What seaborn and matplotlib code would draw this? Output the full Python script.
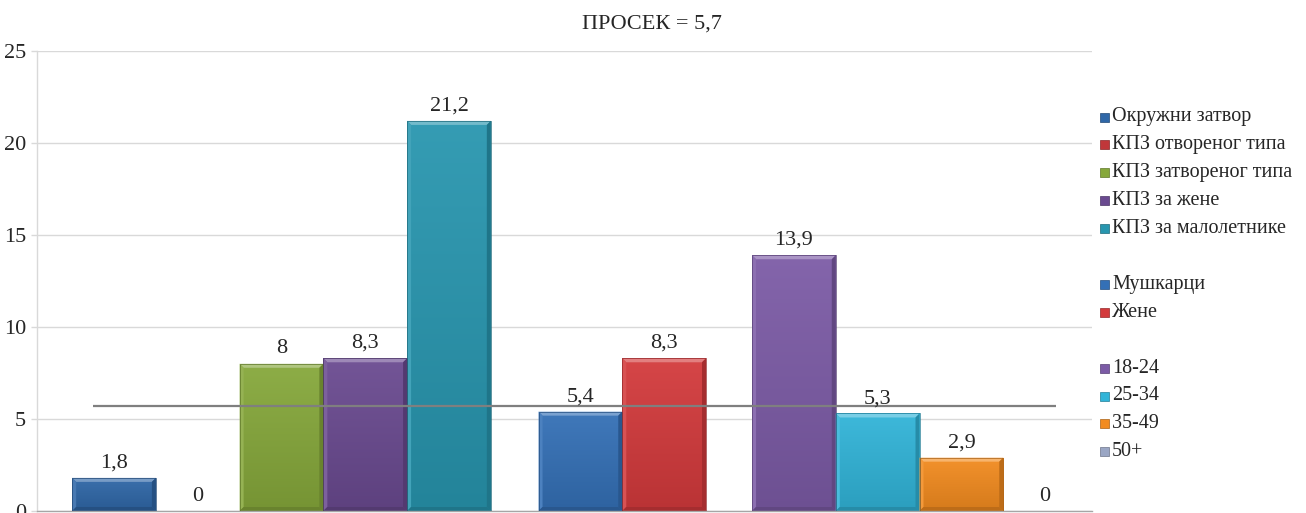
import numpy as np
import pandas as pd
import matplotlib
matplotlib.use("Agg")
import matplotlib.pyplot as plt
import seaborn as sns
from matplotlib.colors import to_rgb
from matplotlib.patches import Rectangle, Polygon

# ---- data ----
categories = ["Окружни затвор", "КПЗ отвореног типа", "КПЗ затвореног типа",
              "КПЗ за жене", "КПЗ за малолетнике",
              "Мушкарци", "Жене",
              "18-24", "25-34", "35-49", "50+"]
values = [1.8, 0, 8, 8.3, 21.2, 5.4, 8.3, 13.9, 5.3, 2.9, 0]
average = 5.7
title_text = "ПРОСЕК = 5,7"
group_sizes = [5, 2, 4]
y_ticks = [0, 5, 10, 15, 20, 25]

# ---- styling ----
colors = ["#2F67A7", "#C0373A", "#86A83B", "#6A4A90", "#2896AF",
          "#3470B6", "#D33A3C", "#7C5BA6", "#31B4D8", "#F28B1F", "#9AA6C4"]
positions = [0, 1, 2, 3, 4, 5.57, 6.57, 8.12, 9.12, 10.12, 11.12]
text_color = "#262626"
serif = ["Liberation Serif", "DejaVu Serif"]

sns.set_theme(style="white")
plt.rcParams["font.family"] = serif

W, H, DPI = 1306, 513, 100
fig = plt.figure(figsize=(W / DPI, H / DPI), dpi=DPI)
ax_left, ax_right, ax_top, ax_bottom = 37, 1092, 51, 511
ax = fig.add_axes([ax_left / W, (H - ax_bottom) / H,
                   (ax_right - ax_left) / W, (ax_bottom - ax_top) / H])

df = pd.DataFrame({"pos": positions, "value": values, "category": categories})
palette = dict(zip(categories, colors))
sns.barplot(data=df, x="pos", y="value", hue="category", hue_order=categories,
            palette=palette, native_scale=True, width=1.0, dodge=False,
            legend=False, saturation=1.0, ax=ax, zorder=2)

xlim = (-0.92, 11.68)
ylim = (0, 25)

# pixel sizes in data units for the bevel
px_x = (xlim[1] - xlim[0]) / (ax_right - ax_left)
px_y = (ylim[1] - ylim[0]) / (ax_bottom - ax_top)

bars = [p for p in ax.patches if isinstance(p, Rectangle)]
for p in bars:
    x0, y0 = p.get_x(), p.get_y()
    w, h = p.get_width(), p.get_height()
    base = np.array(to_rgb(p.get_facecolor()))
    if h <= 0:
        p.set_visible(False)
        continue
    # soft vertical gradient fill, slightly lighter at the top
    t = np.linspace(0, 1, 256)[:, None]
    light = base + (1 - base) * 0.06
    dark = base * 0.88
    grad = (light * (1 - t) + dark * t)[:, None, :]
    im = ax.imshow(grad, extent=[x0, x0 + w, y0, y0 + h], origin="upper",
                   aspect="auto", interpolation="bilinear", zorder=2)
    im.set_clip_path(p)
    p.set_facecolor("none")
    p.set_edgecolor(tuple(base * 0.7))
    p.set_linewidth(0.5)
    p.set_zorder(3)
    # bevel edges
    dx, dy = 4 * px_x, 4 * px_y
    dy = min(dy, h / 2)
    top = y0 + h
    hi = tuple(np.clip(base + (1 - base) * 0.35, 0, 1))
    lo = tuple(base * 0.78)
    mid_l = tuple(np.clip(base + (1 - base) * 0.12, 0, 1))
    ax.add_patch(Polygon([(x0, top), (x0 + w, top), (x0 + w - dx, top - dy), (x0 + dx, top - dy)],
                         closed=True, facecolor=hi, edgecolor="none", zorder=2.5))
    ax.add_patch(Polygon([(x0 + w, top), (x0 + w, y0), (x0 + w - dx, y0 + dy), (x0 + w - dx, top - dy)],
                         closed=True, facecolor=lo, edgecolor="none", zorder=2.5))
    ax.add_patch(Polygon([(x0, top), (x0 + dx, top - dy), (x0 + dx, y0 + dy), (x0, y0)],
                         closed=True, facecolor=mid_l, edgecolor="none", zorder=2.5))
    ax.add_patch(Polygon([(x0, y0), (x0 + dx, y0 + dy), (x0 + w - dx, y0 + dy), (x0 + w, y0)],
                         closed=True, facecolor=lo, edgecolor="none", zorder=2.5))

# value labels
for x, v in zip(positions, values):
    label = f"{v:g}".replace(".", ",")
    ax.annotate(label, (x, v), xytext=(0, 7.5), textcoords="offset points",
                ha="center", va="baseline", fontsize=16, color=text_color,
                family=serif, zorder=5)

# average line
ax.plot([-0.25, 11.25], [average, average], color="#7F7F7F", lw=1.6,
        solid_capstyle="butt", zorder=4)

ax.set_xlim(*xlim)
ax.set_ylim(*ylim)
ax.set_yticks(y_ticks)
ax.set_yticklabels([str(v) for v in y_ticks], fontsize=16, color=text_color, family=serif)
ax.set_xticks([])
ax.set_xlabel("")
ax.set_ylabel("")
ax.yaxis.grid(True, color="#D9D9D9", lw=1.0, zorder=0)
ax.set_axisbelow(True)
ax.tick_params(axis="y", length=4, width=1, color="#D9D9D9", pad=4, left=True)
for side in ["top", "right"]:
    ax.spines[side].set_visible(False)
ax.spines["left"].set_color("#D9D9D9")
ax.spines["left"].set_linewidth(1.0)
ax.spines["bottom"].set_color("#A6A6A6")
ax.spines["bottom"].set_linewidth(1.0)

fig.text(652 / W, 1 - 24 / H, title_text, ha="center", va="center",
         fontsize=16, color=text_color, family=serif)

# legend: groups separated by an empty row
row = 0
row_h = 27.9
first_y = 117
for gi, size in enumerate(group_sizes):
    start = sum(group_sizes[:gi])
    for k in range(size):
        idx = start + k
        yc = first_y + row * row_h
        base = np.array(to_rgb(colors[idx]))
        sq = Rectangle((1100 / W, 1 - (yc + 4.5) / H), 9 / W, 9 / H,
                       transform=fig.transFigure, facecolor=base,
                       edgecolor=tuple(base * 0.7), lw=0.5)
        fig.add_artist(sq)
        fig.text(1112 / W, 1 - yc / H, categories[idx], ha="left", va="center",
                 fontsize=14.5, color=text_color, family=serif)
        row += 1
    row += 1

fig.savefig("out.png", dpi=DPI)
